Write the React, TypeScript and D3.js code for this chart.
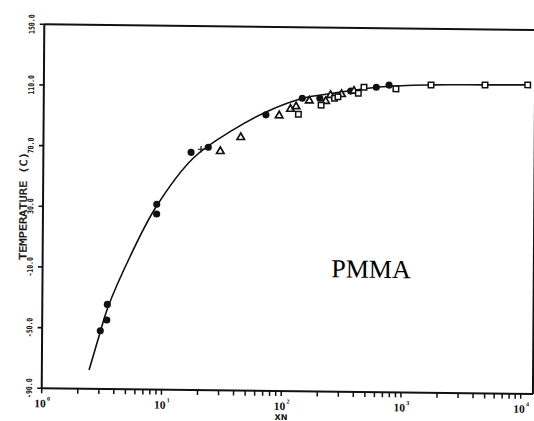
import React from 'react';
import * as d3 from 'd3';

// Glass transition temperature of PMMA vs. degree of polymerisation (XN)
const circleN = [3.06, 3.46, 3.49, 8.9, 8.9, 17.1, 23.8, 71.8, 144, 202, 365, 597, 762];
const circleT = [-51.6, -44.5, -34.2, 25.8, 32.2, 66.7, 70.2, 92.0, 103.2, 103.3, 108.3, 111.0, 112.5];

const plusN = [20.7];
const plusT = [68.8];

const triangleN = [30.0, 44.4, 92.6, 115, 128, 165, 226, 248, 306, 389];
const triangleT = [67.6, 77.0, 91.6, 96.0, 97.7, 101.6, 101.4, 105.4, 106.1, 108.4];

const squareN = [134, 207, 268, 286, 423, 471, 871, 1709, 4826, 10966];
const squareT = [92.6, 98.8, 103.4, 104.4, 106.9, 110.9, 110.1, 112.9, 113.3, 113.7];

// fitted curve
const fitN = [2.48, 3.04, 3.54, 5.36, 8.78, 17.9, 38.2, 72.8, 146, 260, 679, 1700, 4800, 10820];
const fitT = [-77.6, -53.1, -35.9, -2.6, 30.4, 63.0, 81.8, 94.1, 103.2, 106.7, 111.4, 113.0, 113.4, 113.7];

const yTickValues = [150, 110, 70, 30, -10, -50, -90];
const yTickLabels = ['150.0', '110.0', '70.0', '30.0', '-10.0', '-50.0', '-90.0'];
const xMajorValues = [1, 10, 100, 1000, 10000];
const xMajorExponents = ['0', '1', '2', '3', '4'];

const W = 534;
const H = 421;
const X0 = 44.3;
const X1 = 523.3;
const Y0 = 24.3;
const Y1 = 388.3;
const FRAME_RIGHT = 535.5;
const INK = '#111';

const zip = (n: number[], t: number[]) => n.map((v, i) => ({ n: v, t: t[i] }));

export default function App() {
  const x = d3.scaleLog().domain([1, 1e4]).range([X0, X1]);
  const y = d3.scaleLinear().domain([-90, 150]).range([Y1, Y0]);

  const line = d3
    .line<{ n: number; t: number }>()
    .x((d) => x(d.n))
    .y((d) => y(d.t))
    .curve(d3.curveCatmullRom.alpha(0.5));

  const circlePath = d3.symbol().type(d3.symbolCircle).size(40)() as string;
  const trianglePath = d3.symbol().type(d3.symbolTriangle).size(24)() as string;
  const squarePath = d3.symbol().type(d3.symbolSquare).size(30)() as string;
  const plusPath = 'M-3.2,0H3.2M0,-3.2V3.2';

  const xTicks = x.ticks();
  const monoFont = "'DejaVu Sans Mono', monospace";

  return (
    <svg
      width={W}
      height={H}
      style={{ position: 'absolute', left: 0, top: 0, background: '#fff' }}
    >
      <rect width={W} height={H} fill="#fff" />
      <g transform="matrix(1,0.0115,-0.0071,1,0.1725,-0.509)">
        {/* frame */}
        <line x1={X0} y1={Y0} x2={FRAME_RIGHT + 6} y2={Y0} stroke={INK} strokeWidth={2} />
        <line x1={X0} y1={Y0} x2={X0} y2={Y1} stroke={INK} strokeWidth={2} />
        <line x1={X0} y1={Y1} x2={FRAME_RIGHT} y2={Y1} stroke={INK} strokeWidth={2} />
        <line x1={FRAME_RIGHT} y1={Y0} x2={FRAME_RIGHT} y2={Y1} stroke={INK} strokeWidth={2} />

        {/* y axis ticks and labels */}
        {yTickValues.map((v, i) => (
          <g key={`yt${v}`}>
            <line x1={X0 - 4.5} x2={X0} y1={y(v)} y2={y(v)} stroke={INK} strokeWidth={1.6} />
            <text
              transform={`translate(32,${y(v)}) rotate(-90)`}
              textAnchor="middle"
              dominantBaseline="central"
              fontFamily={monoFont}
              fontWeight="bold"
              fontSize={8}
              textLength={yTickLabels[i].length * 3.9}
              lengthAdjust="spacingAndGlyphs"
              fill={INK}
            >
              {yTickLabels[i]}
            </text>
          </g>
        ))}
        <text
          transform={`translate(24.5,${(Y0 + Y1) / 2}) rotate(-90)`}
          textAnchor="middle"
          dominantBaseline="central"
          fontFamily={monoFont}
          fontSize={10}
          stroke={INK}
          strokeWidth={0.35}
          textLength={108}
          lengthAdjust="spacingAndGlyphs"
          fill={INK}
        >
          TEMPERATURE (C)
        </text>

        {/* x axis ticks and labels */}
        {xTicks.map((v) => (
          <line
            key={`xt${v}`}
            x1={x(v)}
            x2={x(v)}
            y1={Y1}
            y2={Y1 + 5}
            stroke={INK}
            strokeWidth={1.5}
          />
        ))}
        {xMajorValues.map((v, i) => (
          <g key={`xl${v}`}>
            <text
              x={x(v) - 1.5}
              y={Y1 + 19}
              textAnchor="middle"
              fontFamily="'Liberation Serif', serif"
              fontWeight="bold"
              fontSize={11.5}
              fill={INK}
            >
              10
            </text>
            <text
              x={x(v) + 5.3}
              y={Y1 + 12.5}
              fontFamily="'Liberation Serif', serif"
              fontWeight="bold"
              fontSize={6}
              fill={INK}
            >
              {xMajorExponents[i]}
            </text>
          </g>
        ))}
        <text
          x={(X0 + X1) / 2}
          y={Y1 + 29}
          textAnchor="middle"
          fontFamily="'DejaVu Sans', sans-serif"
          fontWeight="bold"
          fontSize={8}
          fill={INK}
        >
          XN
        </text>

        {/* fitted curve */}
        <path d={line(zip(fitN, fitT)) || ''} fill="none" stroke={INK} strokeWidth={1.6} />

        {/* data markers */}
        {zip(circleN, circleT).map((d, i) => (
          <path key={`c${i}`} d={circlePath} transform={`translate(${x(d.n)},${y(d.t)})`} fill={INK} />
        ))}
        {zip(triangleN, triangleT).map((d, i) => (
          <path
            key={`t${i}`}
            d={trianglePath}
            transform={`translate(${x(d.n)},${y(d.t)})`}
            fill="#fff"
            stroke={INK}
            strokeWidth={1.7}
          />
        ))}
        {zip(squareN, squareT).map((d, i) => (
          <path
            key={`s${i}`}
            d={squarePath}
            transform={`translate(${x(d.n)},${y(d.t)})`}
            fill="#fff"
            stroke={INK}
            strokeWidth={1.5}
          />
        ))}
        {zip(plusN, plusT).map((d, i) => (
          <path
            key={`p${i}`}
            d={plusPath}
            transform={`translate(${x(d.n)},${y(d.t)})`}
            fill="none"
            stroke={INK}
            strokeWidth={1.2}
          />
        ))}

        <text
          x={333}
          y={274}
          fontFamily="'Liberation Serif', 'Times New Roman', serif"
          fontSize={26}
          fill="#000"
        >
          PMMA
        </text>
      </g>
    </svg>
  );
}
